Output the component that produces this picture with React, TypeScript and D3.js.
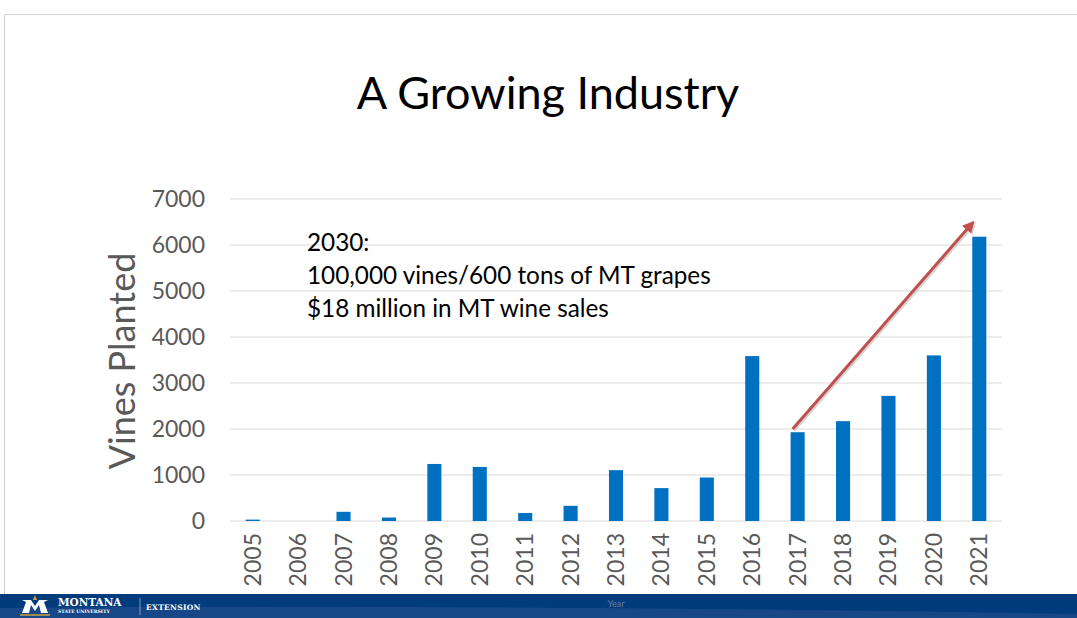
import React from 'react';
import * as d3 from 'd3';

// data
const years = ['2005', '2006', '2007', '2008', '2009', '2010', '2011', '2012', '2013',
  '2014', '2015', '2016', '2017', '2018', '2019', '2020', '2021'];
const vinesPlanted = [30, 0, 200, 75, 1240, 1175, 175, 330, 1105, 715, 945, 3585, 1930, 2170, 2720, 3600, 6180];
const yTicks = [0, 1000, 2000, 3000, 4000, 5000, 6000, 7000];
const noteLines = ['2030:', '100,000 vines/600 tons of MT grapes', '$18 million in MT wine sales'];
// trend arrow: from 2017 ~2000 up to 2021 ~6450
const arrowFrom = { year: '2017', value: 2000 };
const arrowTo = { year: '2021', value: 6450 };

const W = 1077;
const H = 618;
const FONT = 'Lato, "Open Sans", sans-serif';
const GREY = '#595959';
const BAR = '#0070C0';
const ARROW = '#C0504D';

export default function App() {
  const x = d3.scaleBand<string>().domain(years).range([230, 1002]);
  const y = d3.scaleLinear().domain([0, 7000]).range([521, 199]);
  const bw = x.bandwidth();
  const barW = bw * 0.31;
  const cx = (yr: string) => (x(yr) || 0) + bw / 2;

  const ax1 = cx(arrowFrom.year) - 5;
  const ay1 = y(arrowFrom.value);
  const ax2 = cx(arrowTo.year) - 8;
  const ay2 = y(arrowTo.value);

  return (
    <svg width={W} height={H} style={{ position: 'absolute', left: 0, top: 0, background: '#fff' }}>
      <defs>
        <marker id="head" viewBox="0 0 10 10" refX="6" refY="5" markerWidth="4" markerHeight="4" orient="auto">
          <path d="M0,0 L10,5 L0,10 Z" fill={ARROW} />
        </marker>
        <marker id="headShadow" viewBox="0 0 10 10" refX="6" refY="5" markerWidth="4" markerHeight="4" orient="auto">
          <path d="M0,0 L10,5 L0,10 Z" fill="#bbb" />
        </marker>
      </defs>

      {/* slide frame */}
      <path d={`M4.5,${H} V14.5 H${W}`} fill="none" stroke="#d0d0d0" strokeWidth={1} />

      <text x={548} y={109} textAnchor="middle" fontFamily={FONT} fontSize={45} fill="#000">
        A Growing Industry
      </text>

      {/* gridlines */}
      {yTicks.map(t => (
        <line key={t} x1={230} x2={1002} y1={y(t)} y2={y(t)} stroke="#D9D9D9" strokeWidth={1} />
      ))}
      {yTicks.map(t => (
        <text key={'l' + t} x={205} y={y(t) + 8} textAnchor="end" fontFamily={FONT} fontSize={23} fill={GREY}>
          {t}
        </text>
      ))}

      <text transform={`translate(135,361) rotate(-90)`} textAnchor="middle" fontFamily={FONT} fontSize={36} fill={GREY}>
        Vines Planted
      </text>

      {/* bars */}
      {years.map((yr, i) => (
        <rect key={yr} x={cx(yr) - barW / 2} y={y(vinesPlanted[i])} width={barW}
          height={y(0) - y(vinesPlanted[i])} fill={BAR} />
      ))}

      {/* x tick labels */}
      {years.map(yr => (
        <text key={'t' + yr} transform={`translate(${cx(yr) + 8},533) rotate(-90)`} textAnchor="end"
          fontFamily={FONT} fontSize={23} fill={GREY}>
          {yr}
        </text>
      ))}

      {/* annotation */}
      {noteLines.map((s, i) => (
        <text key={s} x={307} y={251 + i * 33} fontFamily={FONT} fontSize={24.3} fill="#000">
          {s}
        </text>
      ))}

      {/* arrow with soft shadow */}
      <line x1={ax1 + 1.5} y1={ay1 + 1.5} x2={ax2 + 1.5} y2={ay2 + 1.5} stroke="#bbb" strokeWidth={3}
        opacity={0.6} markerEnd="url(#headShadow)" />
      <line x1={ax1} y1={ay1} x2={ax2} y2={ay2} stroke={ARROW} strokeWidth={3} markerEnd="url(#head)" />

      {/* footer banner */}
      <rect x={0} y={594} width={W} height={H - 594} fill="#003B7C" />
      <path d={`M0,608 Q500,604 ${W},614 V${H} H0 Z`} fill="#1E4B8B" opacity={0.8} />
      <text x={616} y={607} textAnchor="middle" fontFamily={FONT} fontSize={9} fill="#6f7f99">Year</text>

      {/* MSU logo */}
      <path d="M22,613 L26,602 L22,600 H31 L35,606 L39,600 H48 L44,602 L48,613 H41 L39,605 L35,611 L31,605 L29,613 Z" fill="#fff" />
      <path d="M33,600 L35,595 L37,600 Z" fill="#C9A43B" />
      <path d="M20,615 H50" stroke="#C9A43B" strokeWidth={1.5} />
      <text x={58} y={606} fontFamily="'DejaVu Serif', serif" fontWeight="bold" fontSize={10.5} fill="#fff">MONTANA</text>
      <text x={58} y={613} fontFamily="'DejaVu Serif', serif" fontWeight="bold" fontSize={4.6} fill="#fff">STATE UNIVERSITY</text>
      <line x1={140} x2={140} y1={598} y2={615} stroke="#9fb0cc" strokeWidth={0.8} />
      <text x={146} y={610} fontFamily="'DejaVu Serif', serif" fontWeight="bold" fontSize={7.5} fill="#fff" letterSpacing={0.3}>EXTENSION</text>
    </svg>
  );
}
